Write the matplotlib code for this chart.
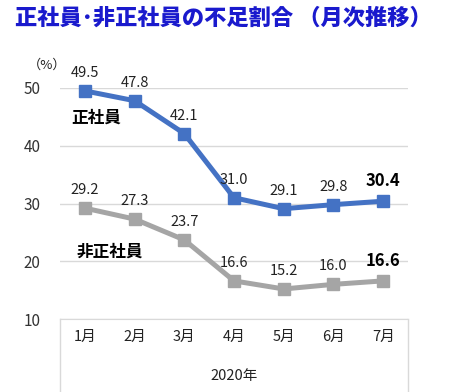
import matplotlib
matplotlib.use("Agg")
import matplotlib.pyplot as plt
from matplotlib.lines import Line2D

plt.rcParams['font.family'] = ['Noto Sans CJK JP', 'DejaVu Sans']

months = ['1月', '2月', '3月', '4月', '5月', '6月', '7月']
seishain = [49.5, 47.8, 42.1, 31.0, 29.1, 29.8, 30.4]
hiseishain = [29.2, 27.3, 23.7, 16.6, 15.2, 16.0, 16.6]
yticks = [10, 20, 30, 40, 50]

W, H = 474, 392
fig = plt.figure(figsize=(W / 100, H / 100), dpi=100)
ax = fig.add_axes([60 / W, 1 - 319 / H, 348 / W, (319 - 88) / H])

blue = '#4472C4'
gray = '#A5A5A5'
x = list(range(len(months)))

ax.plot(x, seishain, color=blue, lw=3.6, marker='s', ms=9, clip_on=False, zorder=3)
ax.plot(x, hiseishain, color=gray, lw=3.6, marker='s', ms=9, clip_on=False, zorder=3)

for i, (a, b) in enumerate(zip(seishain, hiseishain)):
    last = i == len(months) - 1
    kw = dict(fontsize=12 if last else 10.5, fontweight='bold' if last else 'normal',
              color='#000000' if last else '#222222', ha='center', va='bottom')
    ax.annotate(f'{a:.1f}', (i, a), xytext=(0, 8), textcoords='offset points', **kw)
    ax.annotate(f'{b:.1f}', (i, b), xytext=(0, 8), textcoords='offset points', **kw)

ax.text(0.22, 44.8, '正社員', fontsize=12, fontweight='bold', ha='center', va='center')
ax.text(0.5, 21.6, '非正社員', fontsize=12, fontweight='bold', ha='center', va='center')

ax.set_xlim(-0.5, 6.5)
ax.set_ylim(10, 50)
ax.set_yticks(yticks)
ax.set_yticklabels([str(t) for t in yticks], fontsize=11, color='#333333')
ax.tick_params(axis='y', length=0, pad=14)
ax.set_xticks(x)
ax.set_xticklabels(months, fontsize=10.5, color='#222222')
ax.tick_params(axis='x', length=0, pad=8)
ax.grid(axis='y', color='#D9D9D9', lw=1)
ax.set_axisbelow(True)
for s in ['top', 'left', 'right']:
    ax.spines[s].set_visible(False)
ax.spines['bottom'].set_color('#D9D9D9')

# box under the axis
for px in (60, 408):
    fig.add_artist(Line2D([px / W, px / W], [0, 1 - 319 / H], color='#D9D9D9', lw=1))

fig.text(234 / W, 1 - 376 / H, '2020年', fontsize=10.5, ha='center', va='center', color='#222222')
fig.text(47 / W, 1 - 65 / H, '（%）', fontsize=9.5, ha='center', va='center', color='#222222')

fig.text(15 / W, 1 - 18 / H, '正社員･非正社員の不足割合 （月次推移）', fontsize=16,
         fontweight='heavy', color='#1A1ACD', ha='left', va='center')

fig.savefig('out.png', dpi=100)
